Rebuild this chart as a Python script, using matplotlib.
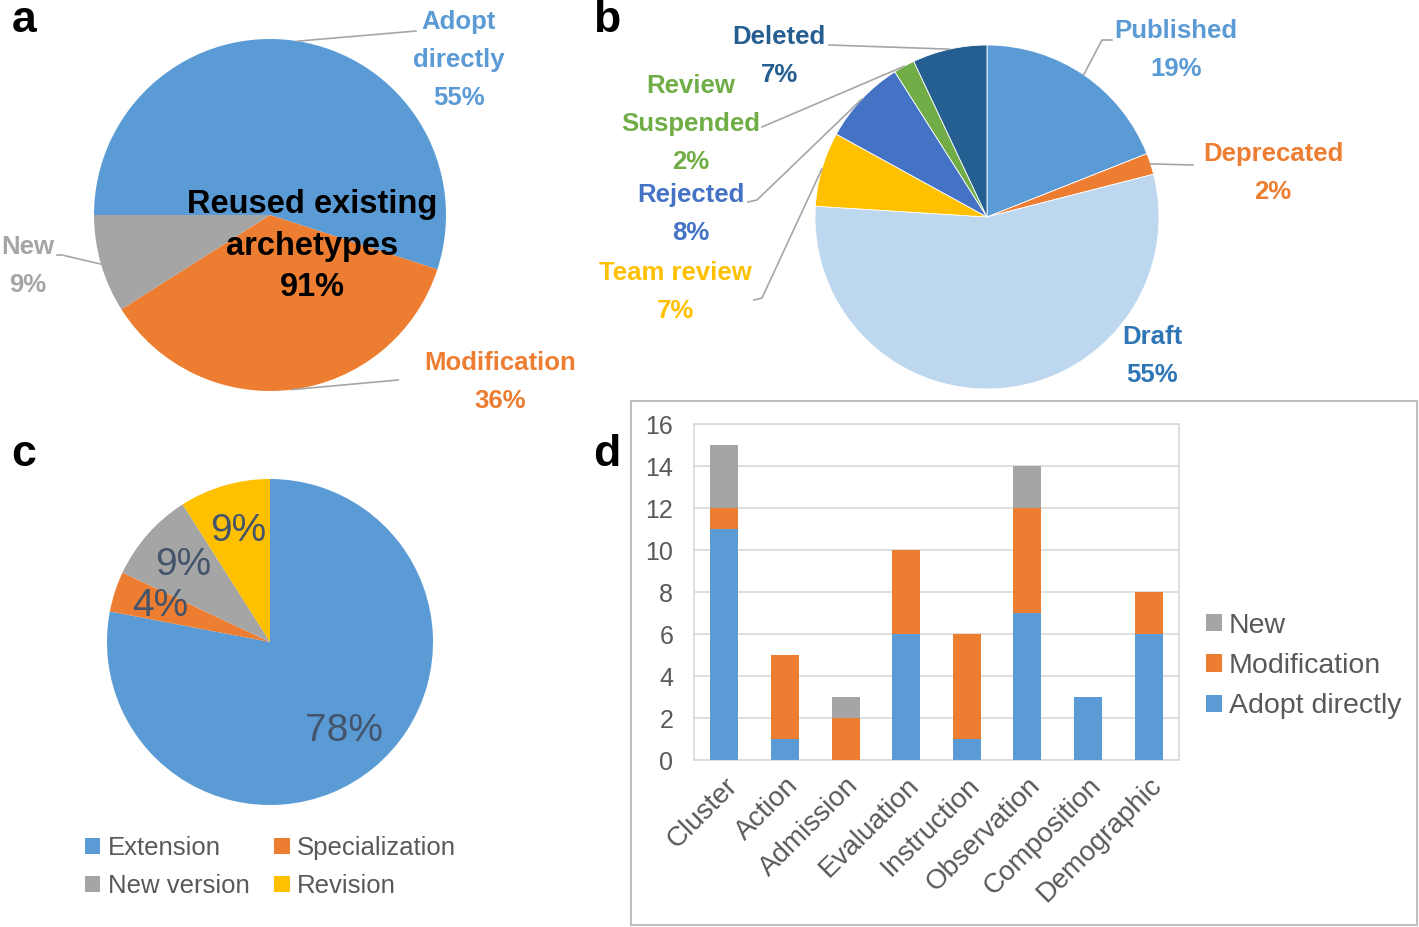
import matplotlib
matplotlib.use('Agg')
import matplotlib.pyplot as plt
from matplotlib.patches import Patch, Rectangle
import numpy as np

plt.rcParams['font.family'] = ['Liberation Sans', 'DejaVu Sans']

#%% data
reuse_labels = ['Adopt directly', 'Modification', 'New']
reuse_share = [55, 36, 9]

status_labels = ['Published', 'Deprecated', 'Draft', 'Team review',
                 'Rejected', 'Review Suspended', 'Deleted']
status_share = [19, 2, 55, 7, 8, 2, 7]

change_labels = ['Extension', 'Specialization', 'New version', 'Revision']
change_share = [78, 4, 9, 9]

categories = ['Cluster', 'Action', 'Admission', 'Evaluation', 'Instruction',
              'Observation', 'Composition', 'Demographic']
adopt = [11, 1, 0, 6, 1, 7, 3, 6]
modif = [1, 4, 2, 4, 5, 5, 0, 2]
new = [3, 0, 1, 0, 0, 2, 0, 0]

#%% style
W, H = 1419, 927
BLUE, ORANGE, GRAY = '#5B9BD5', '#ED7D31', '#A5A5A5'
YELLOW, DBLUE, GREEN = '#FFC000', '#4472C4', '#70AD47'
NAVY, LBLUE = '#255E91', '#BDD7EE'
TXT = '#595959'
LEAD = '#A6A6A6'


def rect(x0, y0, x1, y1):
    return [x0 / W, 1 - y1 / H, (x1 - x0) / W, (y1 - y0) / H]


def to_data(cx, cy, r):
    return lambda px, py: ((px - cx) / r, (cy - py) / r)


def mid_edge(w):
    th = np.deg2rad((w.theta1 + w.theta2) / 2)
    return np.cos(th), np.sin(th)


def put_lines(ax, conv, px, py, lines, color, size=18.5, gap=38, weight='bold'):
    for i, s in enumerate(lines):
        x, y = conv(px, py + i * gap)
        ax.text(x, y, s, ha='center', va='center', color=color,
                fontsize=size, fontweight=weight, clip_on=False)


def leader(ax, conv, wedge, pts):
    ex, ey = mid_edge(wedge)
    xs, ys = [ex], [ey]
    for px, py in pts:
        x, y = conv(px, py)
        xs.append(x)
        ys.append(y)
    ax.plot(xs, ys, color=LEAD, lw=1.2, clip_on=False)


fig = plt.figure(figsize=(W / 100, H / 100), dpi=100)

#%% a
ax = fig.add_axes(rect(94, 39, 446, 391))
wa, _ = ax.pie(reuse_share, colors=[BLUE, ORANGE, GRAY], startangle=180,
               counterclock=False, wedgeprops=dict(linewidth=0))
ax.set_xlim(-1, 1)
ax.set_ylim(-1, 1)
ca = to_data(270, 215, 176)
put_lines(ax, ca, 459, 22, ['Adopt', 'directly', f'{reuse_share[0]}%'], BLUE)
leader(ax, ca, wa[0], [(416, 31)])
put_lines(ax, ca, 500, 363, ['Modification', f'{reuse_share[1]}%'], ORANGE)
leader(ax, ca, wa[1], [(398, 380)])
put_lines(ax, ca, 28, 247, ['New', f'{reuse_share[2]}%'], GRAY)
leader(ax, ca, wa[2], [(62, 255), (57, 255)])
put_lines(ax, ca, 312, 204,
          ['Reused existing', 'archetypes', f'{reuse_share[0] + reuse_share[1]}%'],
          'black', size=23.5, gap=42)

#%% b
ax = fig.add_axes(rect(815, 45, 1159, 389))
wb, _ = ax.pie(status_share,
               colors=[BLUE, ORANGE, LBLUE, YELLOW, DBLUE, GREEN, NAVY],
               startangle=90, counterclock=False,
               wedgeprops=dict(linewidth=0.6, edgecolor='white'))
ax.set_xlim(-1, 1)
ax.set_ylim(-1, 1)
cb = to_data(987, 217, 172)
put_lines(ax, cb, 1176, 31, ['Published', f'{status_share[0]}%'], BLUE)
leader(ax, cb, wb[0], [(1102, 40), (1112, 40)])
put_lines(ax, cb, 1273, 154, ['Deprecated', f'{status_share[1]}%'], ORANGE)
leader(ax, cb, wb[1], [(1193, 165)])
put_lines(ax, cb, 1152, 337, ['Draft', f'{status_share[2]}%'], '#2E75B6')
put_lines(ax, cb, 675, 273, ['Team review', f'{status_share[3]}%'], YELLOW)
leader(ax, cb, wb[3], [(762, 298), (754, 300)])
put_lines(ax, cb, 691, 195, ['Rejected', f'{status_share[4]}%'], DBLUE)
leader(ax, cb, wb[4], [(757, 200), (748, 202)])
put_lines(ax, cb, 691, 86, ['Review', 'Suspended', f'{status_share[5]}%'], GREEN)
leader(ax, cb, wb[5], [(762, 127)])
put_lines(ax, cb, 779, 37, ['Deleted', f'{status_share[6]}%'], NAVY)
leader(ax, cb, wb[6], [(829, 45)])

#%% c
ax = fig.add_axes(rect(107, 479, 433, 805))
wc, _, autot = ax.pie(change_share, colors=[BLUE, ORANGE, GRAY, YELLOW],
                      startangle=90, counterclock=False, autopct='%.0f%%',
                      pctdistance=0.71,
                      textprops=dict(color='#44546A', fontsize=28),
                      wedgeprops=dict(linewidth=0))
ax.set_xlim(-1, 1)
ax.set_ylim(-1, 1)
# legend is filled column-wise: reorder so rows read Extension/Specialization, New version/Revision
order = [0, 2, 1, 3]
ax.legend([wc[i] for i in order], [change_labels[i] for i in order], ncol=2,
          loc='upper left', bbox_to_anchor=(72 / W, 1 - 823 / H),
          bbox_transform=fig.transFigure, frameon=False, fontsize=18.5,
          labelcolor=TXT, handlelength=0.6, handleheight=0.6,
          handletextpad=0.3, columnspacing=0.95, labelspacing=0.55,
          borderpad=0)

#%% d
ax = fig.add_axes(rect(694, 424, 1179, 760))
x = np.arange(len(categories))
bw = 0.46
adopt_a, modif_a, new_a = np.array(adopt), np.array(modif), np.array(new)
b1 = ax.bar(x, adopt_a, bw, color=BLUE, zorder=3, label='Adopt directly')
b2 = ax.bar(x, modif_a, bw, bottom=adopt_a, color=ORANGE, zorder=3,
            label='Modification')
b3 = ax.bar(x, new_a, bw, bottom=adopt_a + modif_a, color=GRAY, zorder=3,
            label='New')
ax.set_xlim(-0.5, len(categories) - 0.5)
ax.set_ylim(0, 16)
ax.set_yticks(range(0, 17, 2))
ax.yaxis.grid(True, color='#D9D9D9', lw=1.2, zorder=0)
for s in ax.spines.values():
    s.set_color('#D9D9D9')
    s.set_linewidth(1.2)
ax.tick_params(length=0, labelsize=18, labelcolor=TXT)
ax.tick_params(axis='y', pad=15)
ax.set_xticks(x)
ax.set_xticklabels(categories, rotation=45, ha='right', va='top',
                   rotation_mode='anchor', fontsize=20)
ax.tick_params(axis='x', pad=9)
ax.legend([b3, b2, b1], ['New', 'Modification', 'Adopt directly'],
          loc='center left', bbox_to_anchor=(1192 / W, 1 - 666 / H),
          bbox_transform=fig.transFigure, frameon=False, fontsize=20.5,
          labelcolor=TXT, handlelength=0.55, handleheight=0.55,
          handletextpad=0.25, labelspacing=0.5, borderpad=0)

fig.add_artist(Rectangle((631 / W, 1 - 925 / H), (1417 - 631) / W,
                         (925 - 401) / H, transform=fig.transFigure,
                         fill=False, ec='#BFBFBF', lw=1.5))

#%% panel letters
for letter, px, py in [('a', 24, 20), ('b', 607, 20), ('c', 24, 455), ('d', 607, 455)]:
    fig.text(px / W, 1 - py / H, letter, fontsize=32, fontweight='bold',
             ha='center', va='center')

fig.savefig('out.png', dpi=100)
